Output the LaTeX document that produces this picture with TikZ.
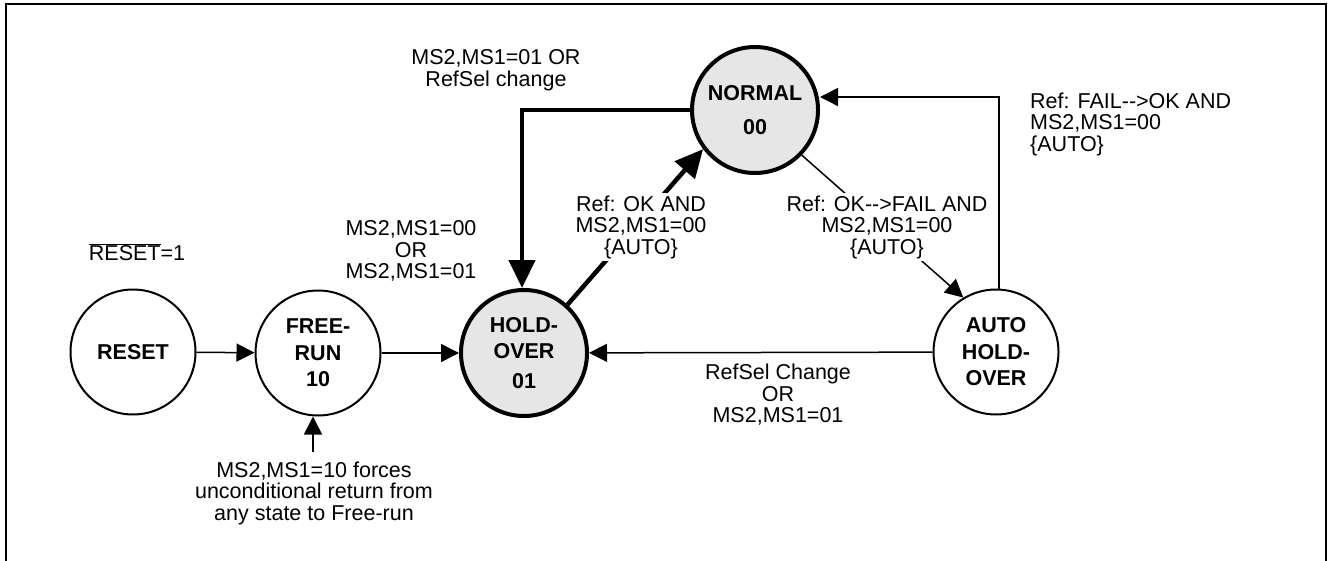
\documentclass[tikz,border=0pt]{standalone}
\usepackage{fontspec}
\setmainfont{Liberation Sans}
\usetikzlibrary{arrows.meta}
\definecolor{stategray}{HTML}{E6E6E6}
\begin{document}
\begin{tikzpicture}[x=1pt,y=-1pt,
  every node/.style={font=\fontsize{21.5}{21.5}\selectfont},
  lbl/.style={align=center, inner sep=2pt},
  st/.style={circle, draw, line width=2pt, minimum size=125pt, inner sep=0pt, align=center,
    font=\fontsize{21.5}{26.5}\selectfont\bfseries},
  stb/.style={st, line width=4pt, fill=stategray, minimum size=126pt},
  tarrow/.style={line width=1.5pt, -{Triangle[length=18pt,width=18pt]}},
  barrow/.style={line width=4.5pt, -{Triangle[length=28pt,width=26pt]}},
]
\useasboundingbox (0,0) rectangle (1329,561);
% frame
\draw[line width=2pt] (6,575) -- (6,4) -- (1326,4) -- (1326,575);
% states
\node[st] (reset) at (133,352) {RESET};
\node[st] (free) at (318,353) {FREE-\\RUN\\10};
\node[stb] (hold) at (524,353) {HOLD-\\OVER\\[3pt]01};
\node[stb] (normal) at (755,110) {NORMAL\\[8pt]00};
\node[st] (auto) at (996,352) {AUTO\\HOLD-\\OVER};
% connectors
\draw[tarrow] (reset) -- (free);
\draw[tarrow] (free) -- (hold);
\draw[tarrow] (auto) -- (hold);
\coordinate (c1) at (522,110);
\draw[barrow, line join=miter] (normal.west) -- (c1) -- (c1 |- hold.north);
\draw[barrow] (hold.48.7) -- (normal.217);
\draw[tarrow] (normal.-44.7) -- (auto.121.8);
\coordinate (c2) at (999,97);
\draw[tarrow] (c2 |- auto.north) -- (c2) -- (c2 -| normal.east);
\coordinate (c3) at (313,452);
\draw[tarrow] (c3) -- (c3 |- free.south);
% labels
\node[lbl] (rst) at (137,252) {$\overline{\hbox{RESET}}$=1};
\node[lbl] (l1) at (496,70) {MS2,MS1=01 OR\\RefSel change};
\node[lbl] (l2) at (411,251) {MS2,MS1=00\\OR\\MS2,MS1=01};
\node[lbl, fill=white] (l3) at (641,227) {Ref: OK AND\\MS2,MS1=00\\\{AUTO\}};
\node[lbl, fill=white] (l4) at (887,227) {Ref: OK\mbox{-}\mbox{-}>FAIL AND\\MS2,MS1=00\\\{AUTO\}};
\node[lbl, align=left, anchor=west] (l5) at (1028,124) {Ref: FAIL\mbox{-}\mbox{-}>OK AND\\MS2,MS1=00\\\{AUTO\}};
\node[lbl] (l6) at (778,395) {RefSel Change\\OR\\MS2,MS1=01};
\node[lbl] (l7) at (314,493) {MS2,MS1=10 forces\\unconditional return from\\any state to Free-run};
\end{tikzpicture}
\end{document}
